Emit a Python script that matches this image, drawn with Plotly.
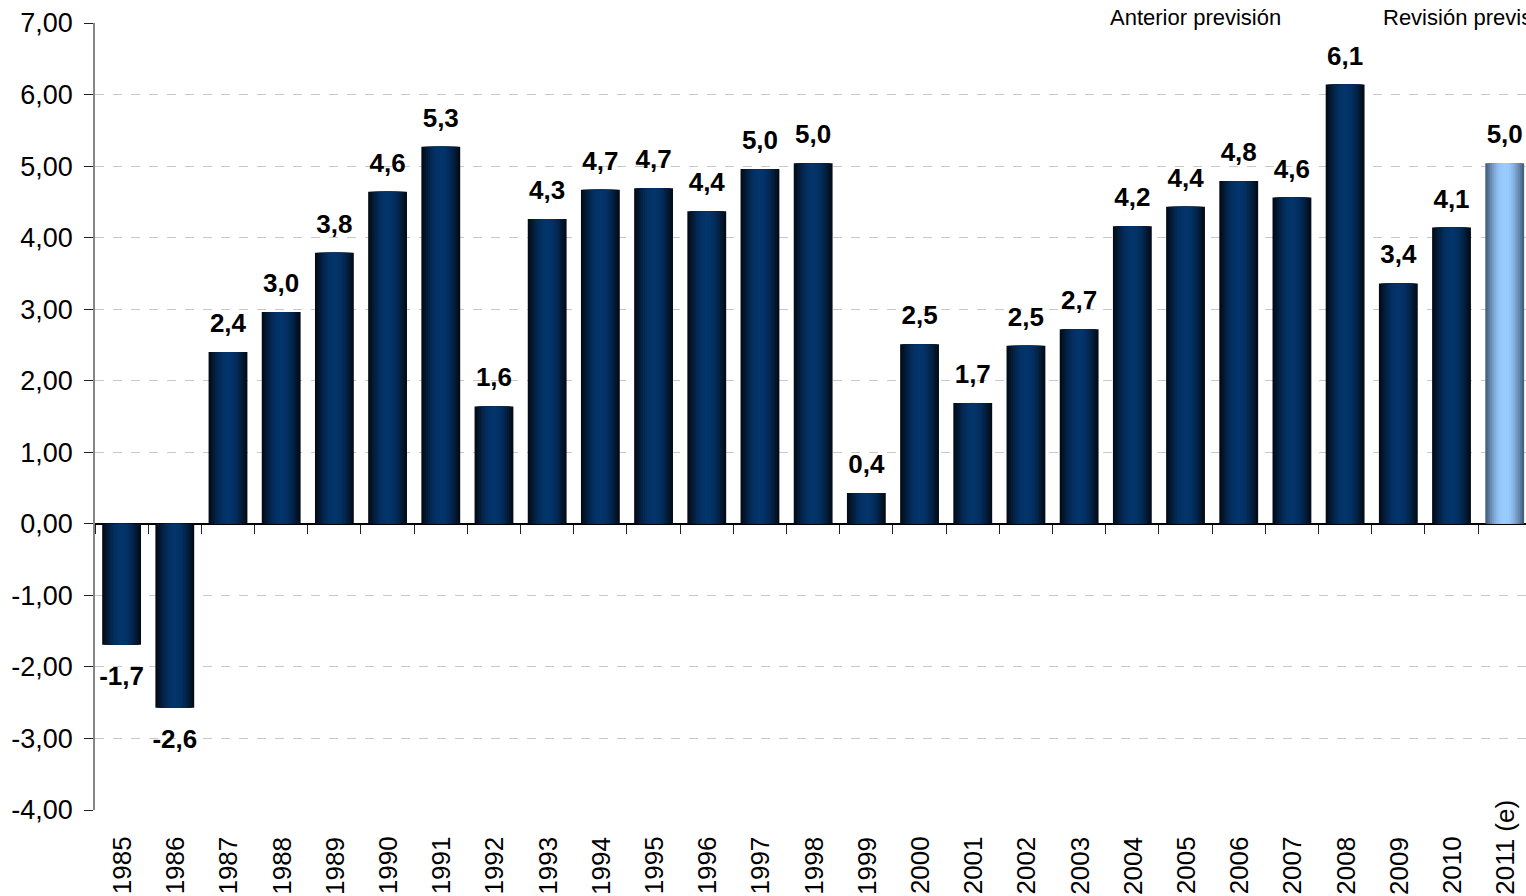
import math
import plotly.graph_objects as go

categories = ["1985", "1986", "1987", "1988", "1989", "1990", "1991", "1992", "1993",
              "1994", "1995", "1996", "1997", "1998", "1999", "2000", "2001", "2002",
              "2003", "2004", "2005", "2006", "2007", "2008", "2009", "2010", "2011 (e)"]
values = [-1.69, -2.57, 2.40, 2.96, 3.79, 4.64, 5.27, 1.64, 4.26,
          4.67, 4.69, 4.37, 4.96, 5.04, 0.43, 2.51, 1.69, 2.49,
          2.72, 4.16, 4.43, 4.79, 4.56, 6.14, 3.36, 4.14, 5.04]
is_estimate = [c.endswith("(e)") for c in categories]
y_ticks = [-4, -3, -2, -1, 0, 1, 2, 3, 4, 5, 6, 7]
legend_labels = ["Anterior previsión", "Revisión previsión"]

FONT = "Liberation Sans, Arial, sans-serif"

def mix(c1, c2, t):
    a = [int(c1[i:i + 2], 16) for i in (1, 3, 5)]
    b = [int(c2[i:i + 2], 16) for i in (1, 3, 5)]
    return "rgb(%d,%d,%d)" % tuple(round(a[k] + (b[k] - a[k]) * t) for k in range(3))

def fmt(v, d):
    return ("%.*f" % (d, v)).replace(".", ",")

dark_edge, dark_center = "#040c18", "#03346a"
light_edge, light_center = "#46617f", "#99ccff"

fig = go.Figure()
N = 9
full_w = 0.73
for k in range(N):
    t = math.sin(math.pi / 2 * k / (N - 1))
    w = full_w * (1 - k / N)
    cols = [mix(light_edge, light_center, t) if e else mix(dark_edge, dark_center, t)
            for e in is_estimate]
    fig.add_trace(go.Bar(x=categories, y=values, width=w,
                         marker=dict(color=cols, line=dict(width=0)),
                         hoverinfo="skip", showlegend=False))

# value labels
fig.add_trace(go.Scatter(
    x=categories, y=values, mode="markers+text",
    marker=dict(size=[20 if v >= 0 else 32 for v in values], color="rgba(0,0,0,0)",
                line=dict(width=0, color="rgba(0,0,0,0)")),
    text=[fmt(v, 1) for v in values],
    textposition=["top center" if v >= 0 else "bottom center" for v in values],
    textfont=dict(family=FONT, size=26, color="black", weight="bold"),
    cliponaxis=False, hoverinfo="skip", showlegend=False))

# invisible trace for boundary tick axis at zero
fig.add_trace(go.Scatter(x=categories, y=values, xaxis="x2", mode="none",
                         hoverinfo="skip", showlegend=False))

ymin, ymax = -4, 7
fig.update_layout(
    width=1526, height=896,
    margin=dict(l=95, r=0, t=23, b=86),
    barmode="overlay",
    separators=",.",
    paper_bgcolor="white", plot_bgcolor="white",
    font=dict(family=FONT, color="black"),
    xaxis=dict(type="category", range=[-0.5, 26.4], showticklabels=False, showgrid=False,
               zeroline=False, showline=False, ticks=""),
    xaxis2=dict(type="category", overlaying="x", anchor="free",
                position=(0 - ymin) / (ymax - ymin), range=[-0.5, 26.4],
                showticklabels=False, showgrid=False, zeroline=False, showline=False,
                ticks="outside", tickson="boundaries", ticklen=9, tickwidth=1.3,
                tickcolor="#222222"),
    yaxis=dict(range=[ymin, ymax], tickvals=y_ticks, ticktext=[fmt(v, 2) for v in y_ticks],
               showgrid=True, gridcolor="#c8c8c8", griddash="dash", gridwidth=1,
               zeroline=True, zerolinecolor="black", zerolinewidth=1.5,
               showline=True, linecolor="#868686", linewidth=1.5,
               ticks="outside", ticklen=9, tickcolor="#222222", tickwidth=1.3,
               ticklabelstandoff=6,
               tickfont=dict(family=FONT, size=27, color="black")),
)

annotations = []
for i, c in enumerate(categories):
    annotations.append(dict(x=i, xref="x", y=-0.11, yref="paper", text=c, textangle=-90,
                            showarrow=False, xanchor="center", yanchor="bottom",
                            font=dict(family=FONT, size=26, color="black")))
annotations.append(dict(x=(1108 - 95) / 1431, xref="paper", y=1.0076, yref="paper",
                        text=legend_labels[0], showarrow=False, xanchor="left", yanchor="middle",
                        bgcolor="white", font=dict(family=FONT, size=22, color="black")))
annotations.append(dict(x=(1381 - 95) / 1431, xref="paper", y=1.0076, yref="paper",
                        text=legend_labels[1], showarrow=False, xanchor="left", yanchor="middle",
                        bgcolor="white", font=dict(family=FONT, size=22, color="black")))
fig.update_layout(annotations=annotations)

fig.write_html("out.html", config={"displayModeBar": False},
               post_script="document.body.style.margin='0';")
